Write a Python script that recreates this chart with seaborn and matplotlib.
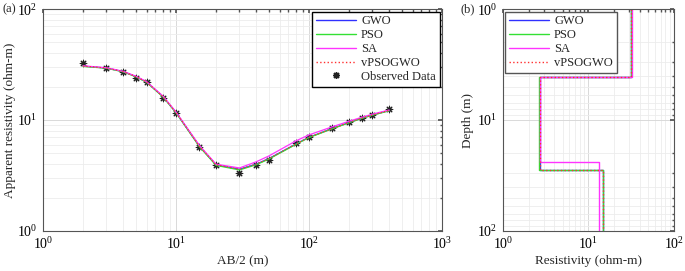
import numpy as np
import pandas as pd
import seaborn as sns
import matplotlib
matplotlib.use("Agg")
import matplotlib.pyplot as plt
from matplotlib.lines import Line2D

# ---- data ----
ab2 = [2, 3, 4, 5, 6, 8, 10, 15, 20, 30, 40, 50, 80, 100, 150, 200, 250, 300, 400]
observed = [32.5, 29.6, 27.0, 24.0, 21.8, 15.7, 11.5, 5.75, 3.9, 3.35, 3.9, 4.4, 6.25, 7.1, 8.4, 9.5, 10.5, 11.2, 12.7]
gwo = [30.6, 29.4, 27.3, 24.6, 22.0, 16.2, 11.7, 5.8, 3.95, 3.6, 4.0, 4.5, 6.1, 7.0, 8.4, 9.5, 10.4, 11.1, 12.2]
pso = [30.4, 29.3, 27.2, 24.5, 21.9, 16.1, 11.6, 5.75, 3.9, 3.55, 3.95, 4.45, 6.05, 6.95, 8.35, 9.45, 10.35, 11.05, 12.1]
sa = [30.8, 29.6, 27.5, 24.8, 22.2, 16.4, 11.8, 5.9, 4.0, 3.7, 4.2, 4.75, 6.5, 7.35, 8.7, 9.75, 10.6, 11.3, 12.3]
vpsogwo = [30.6, 29.4, 27.3, 24.6, 22.0, 16.2, 11.7, 5.8, 3.95, 3.6, 4.0, 4.5, 6.1, 7.0, 8.4, 9.5, 10.4, 11.1, 12.2]

# layered models: resistivity per layer, depth to each interface
rho_gwo, z_gwo = [32.0, 2.7, 14.8], [4.1, 28.0]
rho_pso, z_pso = [32.0, 2.65, 14.9], [4.1, 28.0]
rho_sa, z_sa = [32.5, 2.7, 13.3], [4.1, 24.0]
rho_vpg, z_vpg = [32.0, 2.7, 14.8], [4.1, 28.0]

methods = ["GWO", "PSO", "SA", "vPSOGWO"]
colors = {"GWO": "#3030ff", "PSO": "#33e033", "SA": "#ff33ff", "vPSOGWO": "#ff3030"}
styles = {"GWO": "-", "PSO": "-", "SA": "-", "vPSOGWO": ":"}

sns.set_theme(style="white")
plt.rcParams["font.family"] = ["Liberation Serif", "DejaVu Serif"]
plt.rcParams["mathtext.fontset"] = "stix"
plt.rcParams["axes.edgecolor"] = "#555555"


def step_profile(rho, z, zmin=1.0, zmax=100.0):
    xs, ys = [rho[0]], [zmin]
    for i, d in enumerate(z):
        xs += [rho[i], rho[i + 1]]
        ys += [d, d]
    xs.append(rho[-1])
    ys.append(zmax)
    return xs, ys


curve_df = pd.DataFrame({"ab2": ab2 * 4,
                         "rho": gwo + pso + sa + vpsogwo,
                         "method": sum([[m] * len(ab2) for m in methods], [])})
rows = []
for m, (r, z) in zip(methods, [(rho_gwo, z_gwo), (rho_pso, z_pso), (rho_sa, z_sa), (rho_vpg, z_vpg)]):
    xs, ys = step_profile(r, z)
    for k, (a, b) in enumerate(zip(xs, ys)):
        rows.append({"rho": a, "depth": b, "method": m, "order": k})
model_df = pd.DataFrame(rows)

fig = plt.figure(figsize=(6.85, 2.71), dpi=100)
ax1 = fig.add_axes([0.0628, 0.1476, 0.5825, 0.819])
ax2 = fig.add_axes([0.734, 0.1476, 0.2496, 0.819])


def style_axes(ax):
    ax.set_xscale("log")
    ax.set_yscale("log")
    ax.grid(True, which="major", color="#d9d9d9", linewidth=0.7)
    ax.grid(True, which="minor", color="#ececec", linewidth=0.6)
    ax.tick_params(which="both", direction="in", top=True, right=True, colors="#555555",
                   labelcolor="black", labelsize=10, pad=4)
    ax.tick_params(which="major", length=3)
    ax.tick_params(which="minor", length=1.8)
    for s in ax.spines.values():
        s.set_linewidth(0.8)


# ---- (a) sounding curves ----
for m in methods:
    sub = curve_df[curve_df.method == m]
    sns.lineplot(data=sub, x="ab2", y="rho", ax=ax1, color=colors[m], linestyle=styles[m],
                 linewidth=0.9, sort=False, estimator=None, label=m)
sns.scatterplot(x=ab2, y=observed, ax=ax1, marker=(8, 2, 0), s=22, color="#222222",
                edgecolor="#666666", linewidth=0.8, label="Observed Data")
style_axes(ax1)
ax1.set_xlim(1, 1000)
ax1.set_ylim(1, 100)
ax1.set_xlabel("AB/2 (m)", fontsize=9.5, labelpad=2)
ax1.set_ylabel("Apparent resistivity (ohm-m)", fontsize=9.5, labelpad=1)
handles = [Line2D([], [], color=colors[m], linestyle=styles[m], linewidth=1) for m in methods]
handles.append(Line2D([], [], color="#222222", marker=(8, 2, 0), linestyle="none", markersize=5))
ax1.legend(handles, methods + ["Observed Data"], loc="upper right", fontsize=9,
           frameon=True, fancybox=False, edgecolor="black", framealpha=1,
           borderpad=0.3, labelspacing=0.15, handlelength=3.2, handletextpad=0.4,
           borderaxespad=0.2)
fig.text(0.003, 0.965, "(a)", fontsize=9, va="center")

# ---- (b) layered models ----
for m in methods:
    sub = model_df[model_df.method == m].sort_values("order")
    sns.lineplot(data=sub, x="rho", y="depth", ax=ax2, color=colors[m], linestyle=styles[m],
                 linewidth=1.0, sort=False, estimator=None, label=m)
style_axes(ax2)
ax2.set_xlim(1, 100)
ax2.set_ylim(100, 1)
ax2.set_xlabel("Resistivity (ohm-m)", fontsize=9.5, labelpad=2)
ax2.set_ylabel("Depth (m)", fontsize=9.5, labelpad=2)
handles = [Line2D([], [], color=colors[m], linestyle=styles[m], linewidth=1) for m in methods]
ax2.legend(handles, methods, loc="upper left", fontsize=9,
           frameon=True, fancybox=False, edgecolor="#555555", framealpha=1,
           borderpad=0.3, labelspacing=0.15, handlelength=3.2, handletextpad=0.4,
           borderaxespad=0.2)
fig.text(0.672, 0.965, "(b)", fontsize=9, va="center")

fig.savefig("out.png", dpi=100)
